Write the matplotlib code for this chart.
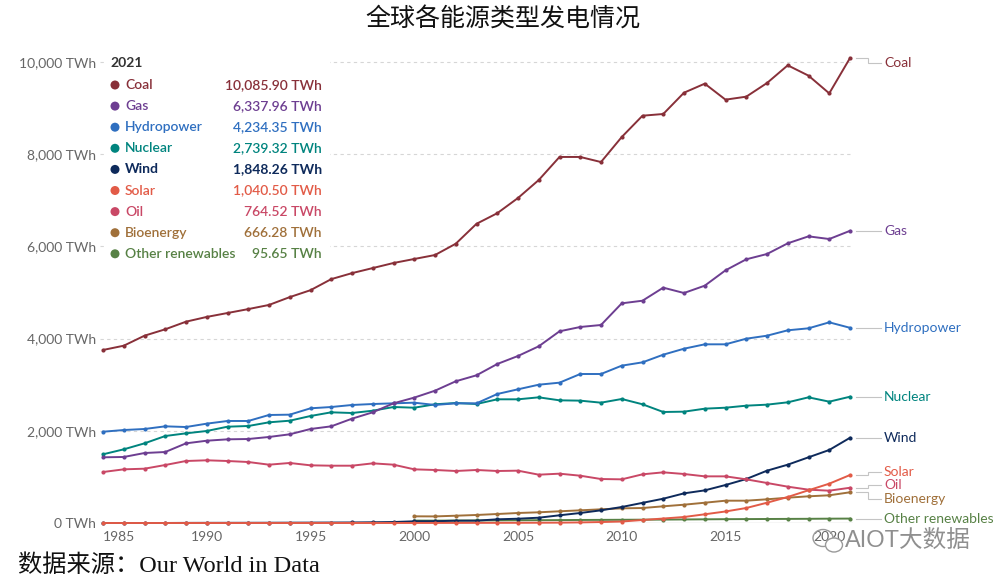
import numpy as np
import matplotlib
matplotlib.use("Agg")
import matplotlib.pyplot as plt
from matplotlib.patches import Rectangle, Ellipse

# ---------------- data ----------------
years = list(range(1985, 2022))
series_names = ["Coal", "Gas", "Hydropower", "Nuclear", "Wind", "Solar", "Oil",
                "Bioenergy", "Other renewables"]

coal = [3753, 3846, 4063, 4202, 4367, 4470, 4555, 4640, 4730, 4900, 5050, 5290, 5420,
        5530, 5640, 5727, 5813, 6058, 6490, 6720, 7050, 7440, 7940, 7940, 7830, 8373,
        8835, 8872, 9334, 9530, 9183, 9248, 9544, 9928, 9704, 9320, 10085.90]
gas = [1425, 1432, 1518, 1540, 1728, 1785, 1815, 1822, 1866, 1924, 2039, 2097, 2263,
       2401, 2596, 2720, 2870, 3074, 3204, 3449, 3623, 3833, 4158, 4252, 4295, 4765,
       4822, 5105, 4989, 5148, 5481, 5720, 5835, 6067, 6218, 6160, 6337.96]
hydro = [1980, 2017, 2039, 2097, 2082, 2155, 2213, 2213, 2343, 2350, 2488, 2516, 2560,
         2581, 2596, 2610, 2560, 2596, 2596, 2798, 2900, 3000, 3044, 3232, 3232, 3413,
         3485, 3651, 3781, 3876, 3876, 3998, 4063, 4180, 4223, 4353, 4234.35]
nuclear = [1490, 1598, 1728, 1887, 1945, 1996, 2089, 2104, 2184, 2219, 2321, 2401, 2386,
           2436, 2516, 2501, 2575, 2603, 2581, 2683, 2683, 2726, 2661, 2654, 2610, 2690,
           2575, 2408, 2415, 2480, 2501, 2545, 2567, 2618, 2726, 2632, 2739.32]
wind = [0.1, 0.2, 0.3, 0.5, 2.5, 3.6, 4.1, 4.7, 5.7, 7.1, 8.3, 9.9, 11.5, 15.7, 21.2,
        37, 38, 50, 50, 80, 93, 115, 167, 217, 275, 347, 437, 527, 643, 708, 824, 954,
        1135, 1265, 1425, 1584, 1848.26]
solar = [0.01, 0.01, 0.01, 0.01, 0.01, 0.09, 0.1, 0.1, 0.2, 0.2, 0.3, 0.3, 0.4, 0.5,
         0.7, 1.1, 1.5, 2.1, 2.8, 3.5, 4.3, 5.8, 7.7, 12.8, 20.9, 32, 65, 97, 130, 189,
         250, 325, 440, 564, 710, 853, 1040.50]
oil = [1106, 1164, 1178, 1258, 1345, 1360, 1345, 1323, 1265, 1302, 1251, 1243, 1243,
       1294, 1265, 1164, 1150, 1128, 1150, 1128, 1135, 1048, 1070, 1026, 954, 947, 1056,
       1099, 1063, 1012, 1012, 947, 868, 788, 723, 701, 764.52]
bio_years = list(range(2000, 2022))
bioenergy = [145, 143, 158, 174, 195, 217, 232, 254, 275, 297, 318, 325, 362, 397, 440,
             484, 484, 514, 549, 579, 601, 666.28]
other = [52, 51, 53, 55, 57, 59, 61, 63, 66, 68, 70, 72, 74, 77, 80, 83, 85, 87, 89, 91,
         94, 95.65]

y_ticks = [0, 2000, 4000, 6000, 8000, 10000]
x_ticks = [1985, 1990, 1995, 2000, 2005, 2010, 2015, 2020]

title = "全球各能源类型发电情况"
source = "数据来源：Our World in Data"
legend_year = "2021"

colors = {
    "Coal": "#883039", "Gas": "#6D3E91", "Hydropower": "#2F6FC0", "Nuclear": "#00847E",
    "Wind": "#0E2A5B", "Solar": "#E25B47", "Oil": "#C94866", "Bioenergy": "#A0703A",
    "Other renewables": "#578145",
}

data = {
    "Coal": (years, coal), "Gas": (years, gas), "Hydropower": (years, hydro),
    "Nuclear": (years, nuclear), "Wind": (years, wind), "Solar": (years, solar),
    "Oil": (years, oil), "Bioenergy": (bio_years, bioenergy),
    "Other renewables": (bio_years, other),
}

# ---------------- figure ----------------
W, H = 1006, 584
fig = plt.figure(figsize=(W / 100, H / 100), dpi=100)
fig.patch.set_facecolor("white")

px_per_year = 20.75
px_per_twh = 461 / 10000
ax_l, ax_r, ax_b, ax_t = 100, 853, 523, 50
ax = fig.add_axes([ax_l / W, (H - ax_b) / H, (ax_r - ax_l) / W, (ax_b - ax_t) / H])
ax.set_xlim(1985 - 3 / px_per_year, 2021 + 3 / px_per_year)
ax.set_ylim(0, 10000 + (62 - ax_t) / px_per_twh)
for s in ax.spines.values():
    s.set_visible(False)
ax.set_facecolor("none")

FONT = ["Lato", "DejaVu Sans"]
GRAY = "#666666"

# grid
for v in y_ticks:
    if v == 0:
        ax.axhline(v, color="#bbbbbb", lw=0.9, zorder=1)
    else:
        ax.axhline(v, color="#d6d6d6", lw=0.8, ls=(0, (3, 3)), zorder=1)

ax.set_yticks(y_ticks)
ax.set_yticklabels([f"{v:,} TWh" for v in y_ticks], fontfamily=FONT, fontsize=10, color=GRAY)
ax.set_xticks(x_ticks)
ax.set_xticklabels([str(v) for v in x_ticks], fontfamily=FONT, fontsize=10, color=GRAY)
ax.tick_params(axis="both", length=0, pad=3)
ax.tick_params(axis="x", pad=6)
ax.get_xticklabels()[0].set_horizontalalignment("left")

# lines
draw_order = ["Other renewables", "Bioenergy", "Wind", "Oil", "Solar", "Nuclear",
              "Hydropower", "Gas", "Coal"]
for i, name in enumerate(draw_order):
    xs, ys = data[name]
    ax.plot(xs, ys, color=colors[name], lw=1.4, marker="o", ms=3, mew=0,
            zorder=3 + i, clip_on=False, solid_joinstyle="round")

# right-hand labels with simple collision avoidance (pixel space)
last = [(name, data[name][1][-1]) for name in series_names]
ypix = {name: v * px_per_twh for name, v in last}
order = sorted(series_names, key=lambda n: -ypix[n])
gap = 13.5
top_limit = (523 - 63)
lab = {}
pos = [min(ypix[n], top_limit) for n in order]
for _ in range(200):
    moved = False
    for i in range(len(pos) - 1):
        if pos[i] - pos[i + 1] < gap - 1e-6:
            d = (gap - (pos[i] - pos[i + 1])) / 2
            pos[i] += d
            pos[i + 1] -= d
            moved = True
    pos[0] = min(pos[0], top_limit)
    if not moved:
        break
for n, p in zip(order, pos):
    lab[n] = p / px_per_twh

x_end = 2021
x0 = x_end + 6 / px_per_year
x1 = x_end + 18 / px_per_year
x2 = x_end + 24 / px_per_year
x3 = x_end + 31 / px_per_year
xt = x_end + 34 / px_per_year
for name, v in last:
    ly = lab[name]
    ax.plot([x0, x1, x1, x2, x3], [v, v, ly, ly, ly], color="#c4c4c4", lw=0.8,
            clip_on=False, zorder=2, solid_joinstyle="miter")
    ax.text(xt, ly, name, color=colors[name], fontsize=10, fontfamily=FONT,
            va="center", ha="left", clip_on=False)

# legend box (top-left)
fig.patches.append(Rectangle((104 / W, 1 - 266 / H), 226 / W, 214 / H,
                             transform=fig.transFigure, facecolor="white",
                             edgecolor="none", zorder=2))
fig.text(110 / W, 1 - 63 / H, legend_year, fontfamily=FONT, fontsize=10, fontweight="bold",
         color="#333333", va="center", ha="left", zorder=5)
row0, row_h = 85, 21.1
for i, name in enumerate(series_names):
    yy = 1 - (row0 + i * row_h) / H
    c = colors[name]
    fig.patches.append(Ellipse((115 / W, yy), 9 / W, 9 / H, transform=fig.transFigure,
                               facecolor=c, edgecolor="none", zorder=5))
    wt = "bold" if name == "Wind" else "semibold"
    fig.text(125 / W, yy, name, color=c, fontfamily=FONT, fontsize=10, fontweight=wt,
             va="center", ha="left", zorder=5)
    fig.text(322 / W, yy, f"{data[name][1][-1]:,.2f} TWh", color=c, fontfamily=FONT,
             fontsize=10, fontweight=wt, va="center", ha="right", zorder=5)

# title and source
fig.text(0.5, 1 - 20 / H, title, ha="center", va="center", fontsize=18,
         fontfamily=["Liberation Serif", "Noto Sans CJK SC"], color="#111111")
fig.text(18 / W, 1 - 566 / H, source, ha="left", va="center", fontsize=17.5,
         fontfamily=["Liberation Serif", "Noto Sans CJK SC"], color="#111111")

# watermark
fig.patches.append(Ellipse((823 / W, 1 - 538 / H), 20 / W, 17 / H, transform=fig.transFigure,
                           facecolor="none", edgecolor="#9a9a9a", lw=1.0, zorder=6))
fig.patches.append(Ellipse((834 / W, 1 - 545 / H), 17 / W, 14 / H, transform=fig.transFigure,
                           facecolor="white", edgecolor="#9a9a9a", lw=1.0, zorder=6))
fig.text(845 / W, 1 - 541 / H, "AIOT大数据", ha="left", va="center", fontsize=17,
         fontfamily=["Liberation Sans", "Noto Sans CJK SC"], color="#8f8f8f", zorder=7)

fig.savefig("out.png", dpi=100, facecolor="white")
